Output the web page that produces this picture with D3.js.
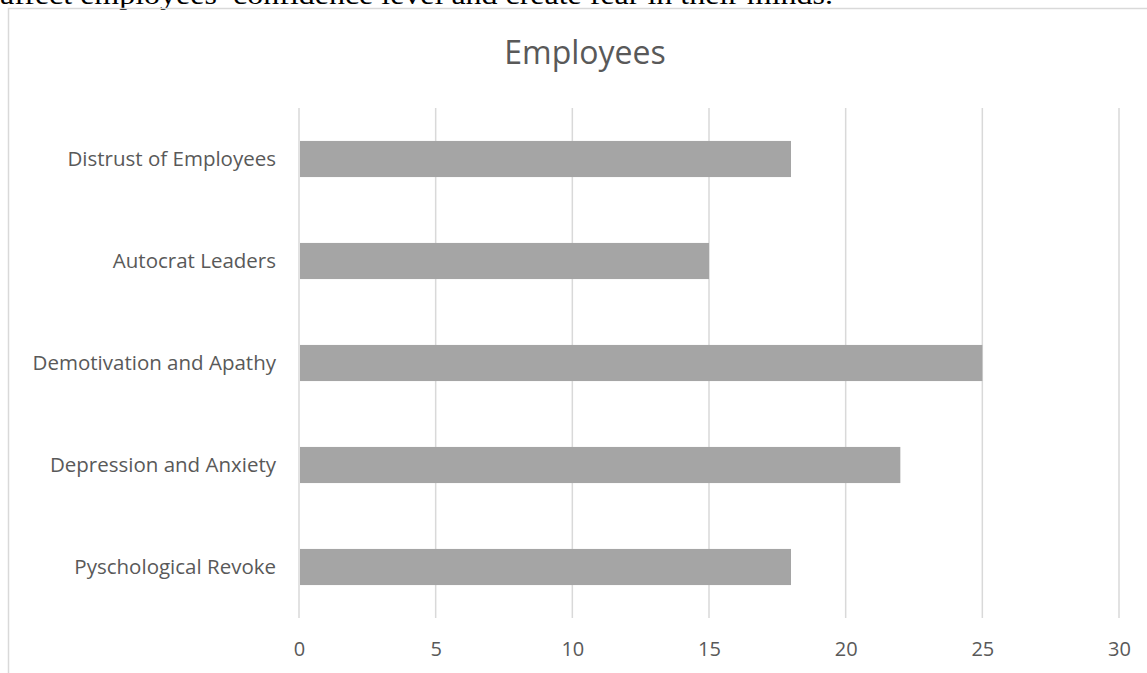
<!DOCTYPE html>
<html>
<head>
<meta charset="utf-8">
<script src="https://cdn.jsdelivr.net/npm/d3@7"></script>
<style>
  body { margin: 0; background: #fff; }
  svg { display: block; }
</style>
</head>
<body>
<div id="chart"></div>
<script>
// data
var categories = [
  "Distrust of Employees",
  "Autocrat Leaders",
  "Demotivation and Apathy",
  "Depression and Anxiety",
  "Pyschological Revoke"
];
var values = [18, 15, 25, 22, 18];
var xTicks = [0, 5, 10, 15, 20, 25, 30];
var chartTitle = "Employees";
var pageText = "affect employees\u2019 confidence level and create fear in their minds.";

var width = 1147,
  height = 673,
  textColor = "#595959",
  gridColor = "#d9d9d9",
  barColor = "#a5a5a5";

var svg = d3
  .select("#chart")
  .append("svg")
  .attr("width", width)
  .attr("height", height);

// cropped line of document text above the chart (cut off in the original too)
svg
  .append("text")
  .attr("x", 0)
  .attr("y", 4)
  .attr("textLength", 833)
  .attr("lengthAdjust", "spacingAndGlyphs")
  .style("font-family", "'Liberation Serif', 'Times New Roman', serif")
  .style("font-size", "27px")
  .style("fill", "#000")
  .text(pageText);

// chart frame (only top and left edges visible)
svg
  .append("path")
  .attr("d", "M8.5," + height + "V8.5H" + width)
  .attr("fill", "none")
  .attr("stroke", gridColor)
  .attr("stroke-width", 1.5);

var x = d3.scaleLinear().domain([0, 30]).range([299, 1119]);

var y = d3
  .scaleBand()
  .domain(categories)
  .range([108, 618])
  .paddingInner(0.646)
  .paddingOuter(0.323);

// gridlines
svg
  .append("g")
  .selectAll("line")
  .data(xTicks)
  .enter()
  .append("line")
  .attr("x1", function(d) { return x(d); })
  .attr("x2", function(d) { return x(d); })
  .attr("y1", 108)
  .attr("y2", 618)
  .attr("stroke", gridColor)
  .attr("stroke-width", 1.5);

// bars
svg
  .append("g")
  .selectAll("rect")
  .data(values)
  .enter()
  .append("rect")
  .attr("x", x(0) + 1)
  .attr("y", function(d, i) { return y(categories[i]); })
  .attr("width", function(d) { return x(d) - x(0) - 1; })
  .attr("height", y.bandwidth())
  .attr("fill", barColor);

// x axis labels
var xAxis = svg
  .append("g")
  .attr("transform", "translate(0,618)")
  .call(d3.axisBottom(x).tickValues(xTicks).tickSize(0).tickPadding(24));
xAxis.select(".domain").remove();
xAxis
  .selectAll("text")
  .style("font-family", "'Open Sans', sans-serif")
  .style("font-size", "20px")
  .style("fill", textColor);

// y axis labels
var yAxis = svg
  .append("g")
  .attr("transform", "translate(299,0)")
  .call(d3.axisLeft(y).tickSize(0).tickPadding(23));
yAxis.select(".domain").remove();
yAxis
  .selectAll("text")
  .style("font-family", "'Open Sans', sans-serif")
  .style("font-size", "20.5px")
  .style("fill", textColor);

// title
svg
  .append("text")
  .attr("x", 585)
  .attr("y", 64)
  .attr("text-anchor", "middle")
  .style("font-family", "'Open Sans', sans-serif")
  .style("font-size", "32px")
  .style("fill", textColor)
  .text(chartTitle);
</script>
</body>
</html>
